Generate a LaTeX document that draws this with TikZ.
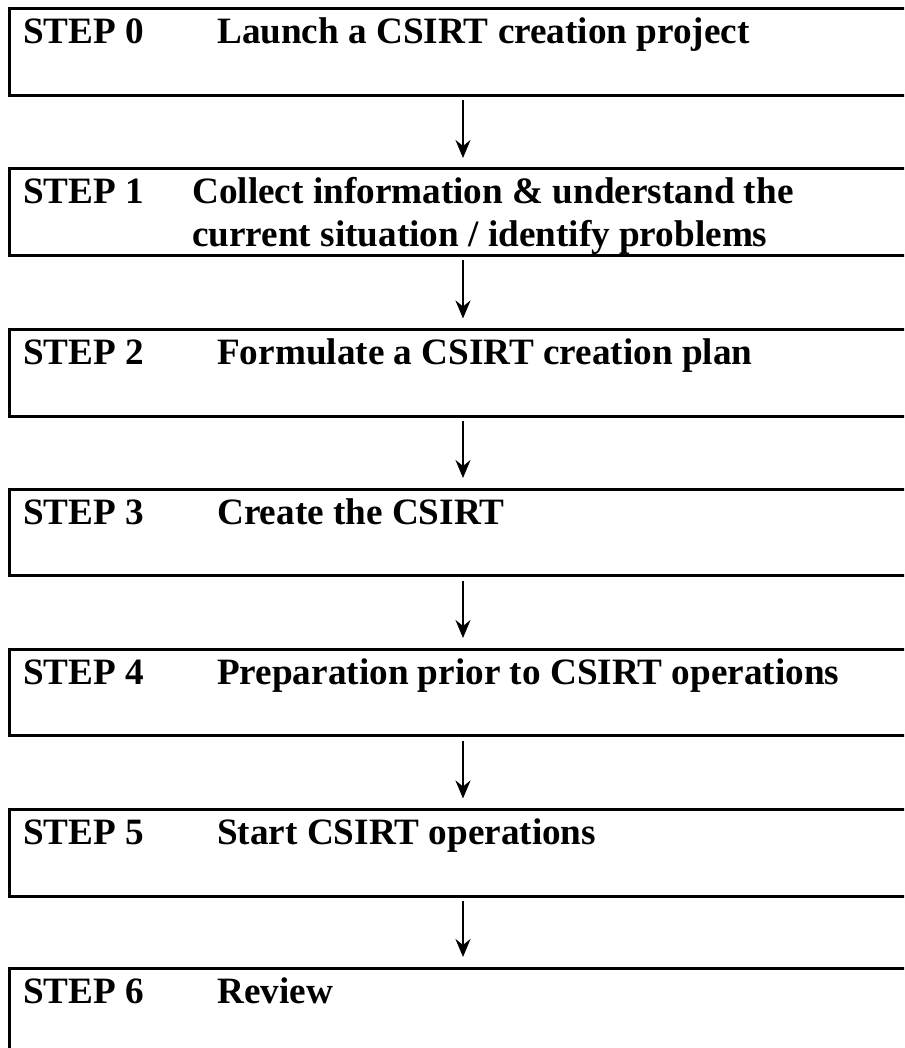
\documentclass[tikz,border=0pt]{standalone}
\usepackage{fontspec}
\setmainfont{Liberation Serif}
\usetikzlibrary{arrows.meta}
\begin{document}
\begin{tikzpicture}[x=1pt,y={(0pt,-1pt)},
  stepbox/.style={draw=black,line width=3pt,minimum width=920pt,minimum height=86.5pt,
    inner sep=0pt,outer sep=0pt,anchor=north west},
  steplbl/.style={font=\fontsize{37.2}{43}\selectfont\bfseries,inner sep=0pt,anchor=base west},
  flow/.style={line width=2.6pt,-{Stealth[length=18pt,width=15pt,inset=6pt]},shorten <=5pt,shorten >=11pt}]
\useasboundingbox (0,0) rectangle (904,1048);
\clip (0,0) rectangle (904,1048);
\coordinate (ax) at (463,0);
% boxes
\node[stepbox] (b0) at (9,9) {};
\node[stepbox] (b1) at (9,169) {};
\node[stepbox] (b2) at (9,329.5) {};
\node[stepbox] (b3) at (9,489) {};
\node[stepbox] (b4) at (9,649) {};
\node[stepbox] (b5) at (9,809.5) {};
\node[stepbox] (b6) at (9,968) {};
% labels
\node[steplbl] (s0) at (23,44) {STEP 0};
\node[steplbl] (t0) at (217,44) {Launch a CSIRT creation project};
\node[steplbl] (s1) at (23,204) {STEP 1};
\node[steplbl] (t1a) at (192,204) {Collect information \& understand the};
\node[steplbl] (t1b) at (192,247) {current situation / identify problems};
\node[steplbl] (s2) at (23,364.5) {STEP 2};
\node[steplbl] (t2) at (217,364.5) {Formulate a CSIRT creation plan};
\node[steplbl] (s3) at (23,524) {STEP 3};
\node[steplbl] (t3) at (217,524) {Create the CSIRT};
\node[steplbl] (s4) at (23,684) {STEP 4};
\node[steplbl] (t4) at (217,684) {Preparation prior to CSIRT operations};
\node[steplbl] (s5) at (23,844.5) {STEP 5};
\node[steplbl] (t5) at (217,844.5) {Start CSIRT operations};
\node[steplbl] (s6) at (23,1003) {STEP 6};
\node[steplbl] (t6) at (217,1003) {Review};
% arrows
\draw[flow] (b0.south -| ax) -- (b1.north -| ax);
\draw[flow] (b1.south -| ax) -- (b2.north -| ax);
\draw[flow] (b2.south -| ax) -- (b3.north -| ax);
\draw[flow] (b3.south -| ax) -- (b4.north -| ax);
\draw[flow] (b4.south -| ax) -- (b5.north -| ax);
\draw[flow] (b5.south -| ax) -- (b6.north -| ax);
\end{tikzpicture}
\end{document}
